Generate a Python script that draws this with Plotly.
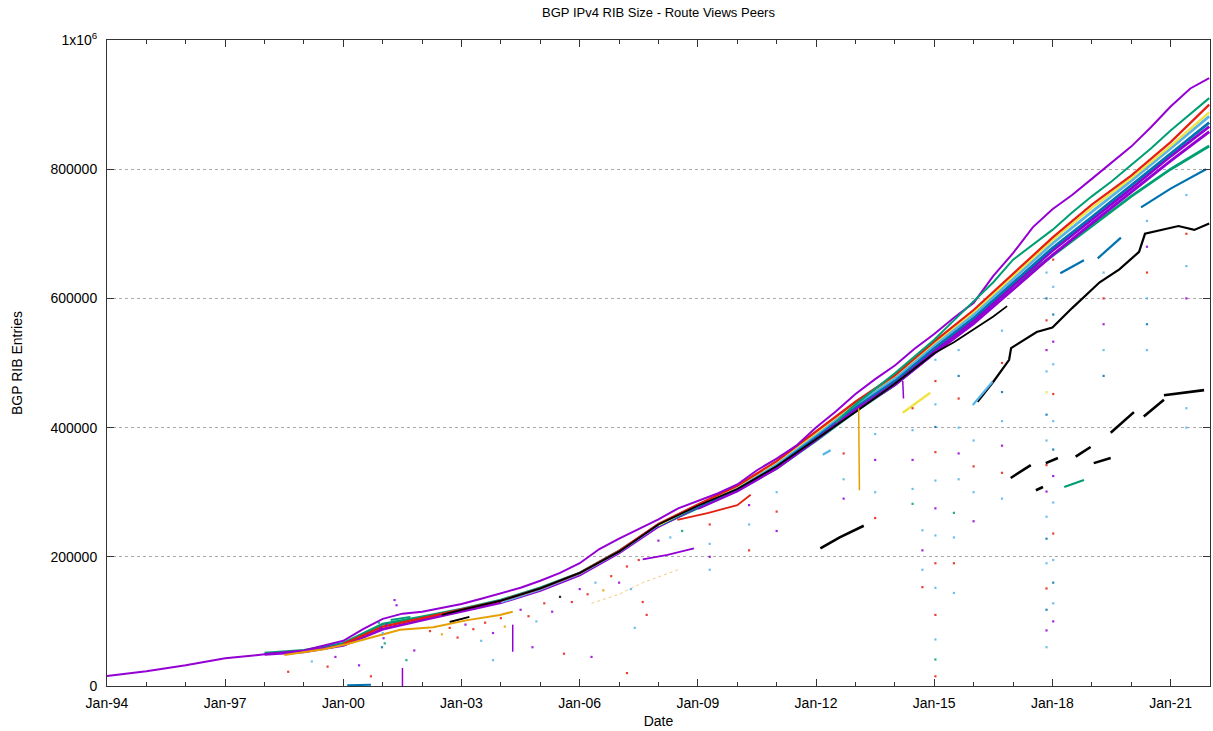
import plotly.graph_objects as go
from datetime import datetime

# ---------------- data (values in thousands of RIB entries) ----------------
band_years = [1998, 1999, 2000, 2001, 2002, 2003, 2004, 2005, 2006, 2007, 2008, 2009, 2010,
              2011, 2012, 2013, 2014, 2015, 2016, 2017, 2018, 2019, 2020, 2021, 2021.98]

purple_top_years = [1994.0, 1995.0, 1996.0, 1997.0, 1998.0, 1999.0, 2000.0, 2000.5, 2001.0, 2001.5,
                    2002.0, 2002.5, 2003.0, 2003.5, 2004.0, 2004.5, 2005.0, 2005.5, 2006.0, 2006.5,
                    2007.0, 2007.5, 2008.0, 2008.5, 2009.0, 2009.5, 2010.0, 2010.5, 2011.0, 2011.5,
                    2012.0, 2012.5, 2013.0, 2013.5, 2014.0, 2014.5, 2015.0, 2015.5, 2016.0, 2016.5,
                    2017.0, 2017.5, 2018.0, 2018.5, 2019.0, 2019.5, 2020.0, 2020.5, 2021.0, 2021.5, 2021.98]
purple_top_vals = [15.5, 23, 32, 43, 49, 55, 70, 88, 104, 112,
                   115, 121, 127, 135, 144, 152, 163, 175, 190, 212,
                   228, 243, 258, 275, 287, 298, 312, 334, 352, 372,
                   400, 425, 452, 475, 496, 522, 545, 570, 593, 635,
                   670, 710, 738, 760, 785, 810, 835, 865, 897, 925, 941]

green_top_years = [2012.5, 2013.0, 2013.5, 2014.0, 2014.5, 2015.0, 2015.5, 2016.0, 2016.5, 2017.0,
                   2017.5, 2018.0, 2018.5, 2019.0, 2019.5, 2020.0, 2020.5, 2021.0, 2021.5, 2021.98]
green_top_vals = [408, 436, 460, 484, 510, 536, 566, 596, 625, 660,
                  683, 706, 733, 758, 781, 806, 832, 860, 886, 910]

red_band_vals = [None, None, 65, 92, 105, 118, 132, 151, 175, 209, 251, 281, 310,
                 348, 394, 440, 481, 533, 582, 638, 694, 745, 790, 842, 900]
yellow_band_vals = [None] * 10 + [249, 280, 309, 347, 392, 439, 480, 531, 579, 635, 690, 740, 786, 836, 888]
lightblue_band_vals = [None] * 6 + [130, 150, 174, 208, 250, 280, 308, 345, 390, 436, 477, 528, 575,
                                    630, 685, 734, 782, 832, 882]
blue_band_vals = [None] * 10 + [248, 278, 306, 342, 387, 433, 473, 523, 570, 624, 678, 726, 775, 824, 872]
purple_band_vals = [49, 53, 63, 88, 102, 116, 129, 148, 172, 206, 247, 277, 304,
                    340, 385, 431, 471, 520, 566, 620, 674, 722, 770, 820, 866]
purple_band2_vals = [None] * 11 + [275, 302, 337, 381, 427, 466, 515, 561, 614, 667, 716, 764, 813, 858]
green_band_vals = [51, 55, 66, 96, 107, 119, 133, 152, 175, 209, 248, 276, 303,
                   337, 380, 425, 466, 516, 563, 620, 666, 712, 758, 800, 836]

black_band_years = [2002.5, 2003, 2004, 2005, 2006, 2007, 2008, 2009, 2010, 2011, 2012, 2013, 2014,
                    2015, 2015.5, 2016.0, 2016.5, 2016.85]
black_band_vals = [110, 118, 132, 151, 175, 208, 250, 279, 305, 340, 382, 424, 468,
                   515, 532, 552, 572, 588]

black_mid_years = [2016.1, 2016.5, 2016.9, 2016.95, 2017.6, 2018.0, 2018.5, 2019.2, 2019.7, 2020.2,
                   2020.35, 2020.7, 2021.2, 2021.6, 2021.98]
black_mid_vals = [440, 471, 505, 523, 548, 555, 585, 625, 645, 672, 700, 705, 712, 706, 716]

black_low_years = [2012.11, 2012.6, 2013.21, None, 2016.94, 2017.45, None, 2017.58, 2017.76, None,
                   2017.83, 2018.14, None, 2018.59, 2018.97, None, 2019.05, 2019.48, None,
                   2019.48, 2020.07, None, 2020.32, 2020.83, None, 2020.83, 2021.85]
black_low_vals = [213, 230, 248, None, 322, 342, None, 303, 308, None,
                  345, 353, None, 355, 370, None, 345, 353, None,
                  392, 424, None, 417, 443, None, 450, 458]
black_early_years = [2002.7, 2003.2]
black_early_vals = [99, 107]

green_low_years = [2018.3, 2018.8]
green_low_vals = [308, 319]

blue_low_years = [2018.2, 2018.8, None, 2019.15, 2019.74, None, 2020.25, 2021.0, 2021.9]
blue_low_vals = [639, 659, None, 662, 694, None, 741, 770, 800]
blue_floor_years = [2000.1, 2000.7]
blue_floor_vals = [1, 2]

orange_low_years = [1998.5, 1999.0, 1999.5, 2000.1, 2000.94, 2001.44, 2002.28, 2003.15, 2003.98, 2004.3]
orange_low_vals = [48, 52, 57, 65, 79, 87, 91, 102, 110, 115]
orange_drop_years = [2013.08, 2013.1]
orange_drop_vals = [430, 303]
orange_faint_years = [2006.3, 2007.0, 2007.6, 2008.5]
orange_faint_vals = [128, 142, 160, 180]

red_low_years = [2008.48, 2009.27, 2010.0, 2010.34]
red_low_vals = [257, 268, 280, 296]
purple_low_years = [2007.6, 2008.23, 2008.9]
purple_low_vals = [196, 203, 213]
yellow_seg_years = [2014.2, 2014.9]
yellow_seg_vals = [423, 454]
lightblue_seg_years = [2012.17, 2012.37, None, 2015.98, 2016.48]
lightblue_seg_vals = [358, 365, None, 435, 471]
teal_seg_years = [2001.2, 2001.7]
teal_seg_vals = [102, 107]
purple_spike_years = [2004.3, 2004.3, None, 2001.5, 2001.5, None, 2014.2, 2014.22]
purple_spike_vals = [53, 95, None, 0, 28, None, 472, 445]

# scattered outlier dots (year, value, colour code)
dot_years = ([2017.85] * 17 + [2018.02] * 15 + [2015.03] * 14 + [2015.62] * 6 + [2016.72] * 7
             + [2014.45] * 5 + [2014.7] * 4 + [2015.5] * 4 + [2016.0] * 4 + [2019.3] * 5
             + [2020.4] * 6 + [2021.4] * 6 + [2012.7] * 3 + [2013.5] * 4 + [2011.0] * 3
             + [2010.3] * 3 + [2009.3] * 4
             + [2000.9, 2000.95, 2001.0, 2001.02, 2001.05, 2000.98, 2001.1, 2001.3, 2001.35,
                1998.6, 1999.2, 1999.6, 1999.8, 2000.4, 2000.7, 2001.6, 2001.8,
                2002.2, 2002.5, 2002.7, 2002.9, 2003.1, 2003.3, 2003.5, 2003.6, 2003.8, 2004.0,
                2004.1, 2004.5, 2004.7, 2004.9, 2005.1, 2005.3, 2005.5, 2005.8, 2006.0, 2006.2,
                2006.4, 2006.6, 2006.8, 2007.0, 2007.2, 2007.3, 2007.5, 2007.6, 2008.0, 2008.3,
                2008.6, 2003.8, 2004.8, 2005.6, 2006.3, 2007.2, 2007.4, 2007.7])
dot_vals = ([640, 600, 566, 520, 487, 455, 420, 380, 342, 301, 262, 228, 190, 151, 118, 86, 60]
            + [660, 618, 575, 533, 498, 452, 410, 366, 325, 284, 236, 195, 160, 128, 100]
            + [505, 472, 436, 401, 362, 318, 275, 233, 190, 152, 110, 72, 41, 15]
            + [520, 480, 445, 400, 360, 320]
            + [550, 500, 455, 410, 372, 330, 290]
            + [430, 396, 350, 305, 282]
            + [241, 210, 180, 153]
            + [268, 230, 190, 144]
            + [380, 340, 300, 255]
            + [640, 600, 560, 520, 480]
            + [720, 680, 640, 600, 560, 520]
            + [760, 700, 650, 600, 430, 400]
            + [360, 320, 290]
            + [390, 350, 300, 260]
            + [300, 270, 240]
            + [280, 250, 210]
            + [250, 220, 200, 180]
            + [98, 90, 82, 74, 66, 60, 95, 133, 125,
               22, 38, 30, 45, 32, 15, 40, 55,
               85, 80, 90, 75, 95, 88, 70, 98, 82, 105,
               92, 118, 108, 100, 128, 115, 138, 130, 150, 142,
               160, 148, 170, 160, 185, 150, 195, 130, 225, 230,
               240, 40, 60, 50, 45, 20, 90, 110])
dot_cols = list("LBRPLYBLRPLBLRBPL" "RLBPLRLBPLRLBLP" "LRLBRLPLRLRLGR" "LBRLPL" "LRBLPRL"
                "RLPLG" "LPLR" "GLRL" "LRLP" "LRPLB" "LPRLBL" "LRLPLL" "RLP" "LPLR" "LRP" "PLR" "RLPL"
                "GPLPGBPPP" "RLRPPRGP" "RORRPRLRPR" "OPRLRPKRPR" "LORPRLRRPL" "GLPRPRLR")

PURPLE = "#9400D3"
GREEN = "#009E73"
LBLUE = "#56B4E9"
ORANGE = "#E69F00"
YELLOW = "#F0E442"
BLUE = "#0072B2"
RED = "#E51E10"
BLACK = "#000000"
COLMAP = {"P": PURPLE, "G": GREEN, "L": LBLUE, "O": ORANGE, "Y": YELLOW, "B": BLUE, "R": RED, "K": BLACK}


def to_date(y):
    if y is None:
        return None
    base = int(y)
    start = datetime(base, 1, 1)
    end = datetime(base + 1, 1, 1)
    return start + (end - start) * (y - base)


def thousands(vals):
    return [None if v is None else v * 1000 for v in vals]


fig = go.Figure()


def add_line(years, vals, color, width=2.0, opacity=1.0, dash=None):
    fig.add_trace(go.Scatter(
        x=[to_date(y) for y in years], y=thousands(vals), mode="lines",
        line=dict(color=color, width=width, dash=dash), opacity=opacity,
        connectgaps=False, hoverinfo="skip", showlegend=False))


# main band (drawn bottom layer first)
add_line(band_years, green_band_vals, GREEN, 2.8)
add_line(band_years, purple_band2_vals, PURPLE, 2.8)
add_line(band_years, purple_band_vals, PURPLE, 2.8)
add_line(band_years, blue_band_vals, BLUE, 2.8)
add_line(band_years, lightblue_band_vals, LBLUE, 2.8)
add_line(band_years, yellow_band_vals, YELLOW, 2.2)
add_line(band_years, red_band_vals, RED, 2.2)
add_line(black_band_years, black_band_vals, BLACK, 1.8)

# separated peers
add_line(purple_top_years, purple_top_vals, PURPLE, 2.0)
add_line(green_top_years, green_top_vals, GREEN, 2.0)
add_line(black_mid_years, black_mid_vals, BLACK, 2.2)
add_line(black_low_years, black_low_vals, BLACK, 2.6)
add_line(black_early_years, black_early_vals, BLACK, 2.0)
add_line(green_low_years, green_low_vals, GREEN, 2.2)
add_line(blue_low_years, blue_low_vals, BLUE, 2.2)
add_line(blue_floor_years, blue_floor_vals, BLUE, 2.0)
add_line(orange_low_years, orange_low_vals, ORANGE, 2.0)
add_line(orange_drop_years, orange_drop_vals, ORANGE, 1.5)
add_line(orange_faint_years, orange_faint_vals, ORANGE, 1.0, 0.5, "dot")
add_line(red_low_years, red_low_vals, RED, 1.8)
add_line(purple_low_years, purple_low_vals, PURPLE, 1.8)
add_line(yellow_seg_years, yellow_seg_vals, YELLOW, 2.4)
add_line(lightblue_seg_years, lightblue_seg_vals, LBLUE, 2.2)
add_line(teal_seg_years, teal_seg_vals, GREEN, 2.0)
add_line(purple_spike_years, purple_spike_vals, PURPLE, 1.5)

fig.add_trace(go.Scatter(
    x=[to_date(y) for y in dot_years], y=thousands(dot_vals), mode="markers",
    marker=dict(color=[COLMAP[c] for c in dot_cols], size=2.2, symbol="square", line=dict(width=0),
                opacity=0.85),
    hoverinfo="skip", showlegend=False))

y_ticks = [0, 200000, 400000, 600000, 800000, 1000000]
y_labels = ["0", "200000", "400000", "600000", "800000", "1x10<sup>6</sup>"]

fig.update_layout(
    width=1213, height=731,
    margin=dict(l=107, r=3, t=40, b=45, autoexpand=False),
    paper_bgcolor="white", plot_bgcolor="white",
    font=dict(family="Liberation Sans, Arial, sans-serif", size=14, color="#000"),
    title=dict(text="BGP IPv4 RIB Size - Route Views Peers", x=0.5, xref="paper", xanchor="center",
               y=1 - 12 / 731, yref="container", yanchor="middle", font=dict(size=13)),
    xaxis=dict(
        type="date", range=[to_date(1994.0), to_date(2022.0)],
        tick0="1994-01-01", dtick="M36", tickformat="%b-%y",
        ticks="inside", ticklen=7, tickcolor="#333", tickwidth=1,
        minor=dict(dtick="M12", tick0="1994-01-01", ticks="inside", ticklen=4, tickcolor="#333",
                   showgrid=False),
        showline=True, linecolor="#333", linewidth=1, mirror="ticks",
        showgrid=False, zeroline=False, automargin=False,
        title=dict(text="Date", standoff=6, font=dict(size=14)),
        ticklabelstandoff=4,
    ),
    yaxis=dict(
        range=[0, 1000000], tickvals=y_ticks, ticktext=y_labels,
        ticks="inside", ticklen=7, tickcolor="#333",
        showline=True, linecolor="#333", linewidth=1, mirror="ticks",
        showgrid=True, gridcolor="#aaaaaa", griddash="dot", gridwidth=1, zeroline=False,
        automargin=False,
        title=dict(text="BGP RIB Entries", standoff=24, font=dict(size=14)),
        ticklabelstandoff=6,
    ),
)

fig.write_html("out.html", config={"displayModeBar": False},
               post_script="document.body.style.margin='0';document.body.style.padding='0';"
                           "document.body.style.overflow='hidden';")
